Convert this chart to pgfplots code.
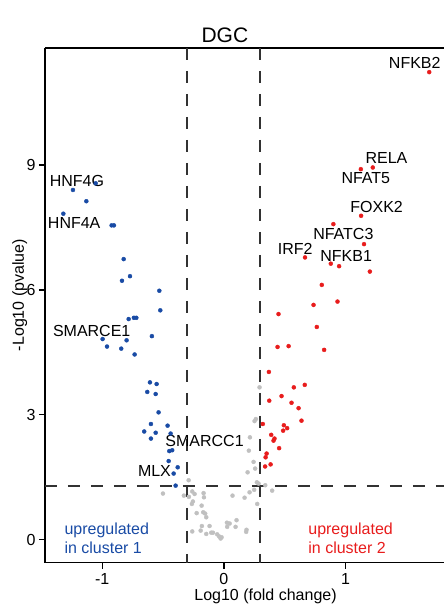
\documentclass[border=0pt]{standalone}
\usepackage{pgfplots}
\pgfplotsset{compat=1.18}
\usepackage{fontspec}
\setmainfont{Liberation Sans}
\definecolor{cblue}{RGB}{25,75,165}
\definecolor{cred}{RGB}{232,28,28}
\definecolor{cgray}{RGB}{192,192,192}
\definecolor{dgray}{RGB}{50,50,50}
\begin{document}
\begin{tikzpicture}[font=\fontsize{16}{19}\selectfont]
\begin{axis}[name=ax, scale only axis, width=399pt, height=515pt,
  xmin=-1.471, xmax=1.808, ymin=-0.552, ymax=11.81,
  axis x line=box, axis y line=left,
  axis line style={line width=1.3pt,-},
  tick pos=left, tick align=outside, major tick length=6pt,
  tick style={line width=1.3pt,black},
  xtick={-1,0,1}, xticklabels={-1,0,1},
  ytick={0,3,6,9}, yticklabels={0,3,6,9},
  xticklabel style={yshift=-1pt},
  xlabel={Log10 (fold change)}, ylabel={-Log10 (pvalue)},
  every axis x label/.style={at={(axis description cs:0.553,-0.065)},anchor=center},
  every axis y label/.style={at={(axis description cs:-0.063,0.52)},rotate=90,anchor=center},
  clip=false,
]
\draw[dgray, line width=2pt, dash pattern=on 12pt off 11pt] (axis cs:-0.3,11.81) -- (axis cs:-0.3,-0.552);
\draw[dgray, line width=2pt, dash pattern=on 12pt off 11pt] (axis cs:0.3,11.81) -- (axis cs:0.3,-0.552);
\draw[dgray, line width=2pt, dash pattern=on 12pt off 11pt] (axis cs:-1.471,1.301) -- (axis cs:1.808,1.301);
\addplot[only marks, mark=*, mark size=2pt, cgray, mark options={draw=cgray, fill=cgray}] table {
x y
0.293 3.66
0.263 2.90
0.252 2.85
0.214 2.46
0.205 2.14
0.244 1.87
0.257 1.71
0.195 1.62
-0.290 1.43
0.285 1.35
0.271 1.38
0.340 1.31
0.397 1.18
-0.501 1.11
-0.329 1.06
-0.288 1.03
-0.260 1.16
-0.241 1.10
-0.167 1.12
-0.164 1.02
0.071 1.06
0.211 1.14
0.170 1.01
0.249 1.20
-0.255 0.92
-0.263 0.86
-0.183 0.82
0.274 0.86
-0.224 0.64
-0.170 0.66
-0.154 0.63
-0.145 0.54
-0.181 0.33
-0.118 0.33
-0.260 0.20
-0.191 0.22
-0.145 0.14
-0.104 0.17
-0.090 0.17
-0.055 0.13
-0.039 0.08
-0.019 0.06
-0.027 0.03
0.025 0.41
0.047 0.39
0.104 0.47
0.096 0.31
0.027 0.31
0.186 0.24
0.183 0.19
};
\addplot[only marks, mark=*, mark size=2pt, cblue, mark options={draw=cblue, fill=cblue}] table {
x y
-1.241 8.40
-1.054 8.56
-1.131 8.13
-1.320 7.83
-0.923 7.55
-0.904 7.55
-0.824 6.74
-0.772 6.33
-0.838 6.22
-0.531 5.98
-0.523 5.51
-0.783 5.30
-0.740 5.33
-0.720 5.33
-0.592 4.89
-0.997 4.82
-0.800 4.79
-0.961 4.64
-0.844 4.59
-0.734 4.45
-0.608 3.78
-0.553 3.74
-0.630 3.55
-0.561 3.50
-0.537 3.06
-0.600 2.78
-0.463 2.74
-0.655 2.60
-0.561 2.57
-0.438 2.55
-0.600 2.43
-0.449 2.13
-0.425 2.15
-0.454 1.89
-0.380 1.74
-0.413 1.59
-0.397 1.30
};
\addplot[only marks, mark=*, mark size=2pt, cred, mark options={draw=cred, fill=cred}] table {
x y
1.688 11.23
1.224 8.94
1.126 8.90
1.128 7.78
0.900 7.58
1.152 7.10
0.667 6.78
0.879 6.63
0.947 6.57
1.200 6.44
0.805 6.12
0.934 5.72
0.737 5.64
0.449 5.42
0.764 5.11
0.441 4.63
0.532 4.65
0.824 4.56
0.370 4.03
0.665 3.72
0.575 3.66
0.474 3.45
0.373 3.34
0.556 3.29
0.614 3.16
0.638 2.86
0.320 2.78
0.493 2.75
0.520 2.68
0.487 2.62
0.389 2.52
0.416 2.43
0.408 2.38
0.454 2.20
0.351 2.07
0.343 1.98
0.384 1.81
0.339 1.76
};
\node at (axis cs:1.569,11.45) {NFKB2};
\node at (axis cs:1.337,9.16) {RELA};
\node at (axis cs:1.167,8.68) {NFAT5};
\node at (axis cs:1.256,8.00) {FOXK2};
\node at (axis cs:0.982,7.34) {NFATC3};
\node at (axis cs:1.005,6.82) {NFKB1};
\node at (axis cs:0.586,6.98) {IRF2};
\node at (axis cs:-1.208,8.62) {HNF4G};
\node at (axis cs:-1.231,7.60) {HNF4A};
\node at (axis cs:-1.087,5.02) {SMARCE1};
\node at (axis cs:-0.159,2.36) {SMARCC1};
\node at (axis cs:-0.571,1.64) {MLX};
\node[anchor=base west, inner sep=0pt, text=cblue] at (axis cs:-1.312,0.13) {upregulated};
\node[anchor=base west, inner sep=0pt, text=cblue] at (axis cs:-1.312,-0.34) {in cluster 1};
\node[anchor=base west, inner sep=0pt, text=cred] at (axis cs:0.693,0.13) {upregulated};
\node[anchor=base west, inner sep=0pt, text=cred] at (axis cs:0.693,-0.34) {in cluster 2};
\node at (axis description cs:0.451,1.025) {\fontsize{21}{25}\selectfont DGC};
\end{axis}
\path ([xshift=-45pt,yshift=-44pt]ax.south west) rectangle ([yshift=48pt]ax.north east);
\end{tikzpicture}
\end{document}
